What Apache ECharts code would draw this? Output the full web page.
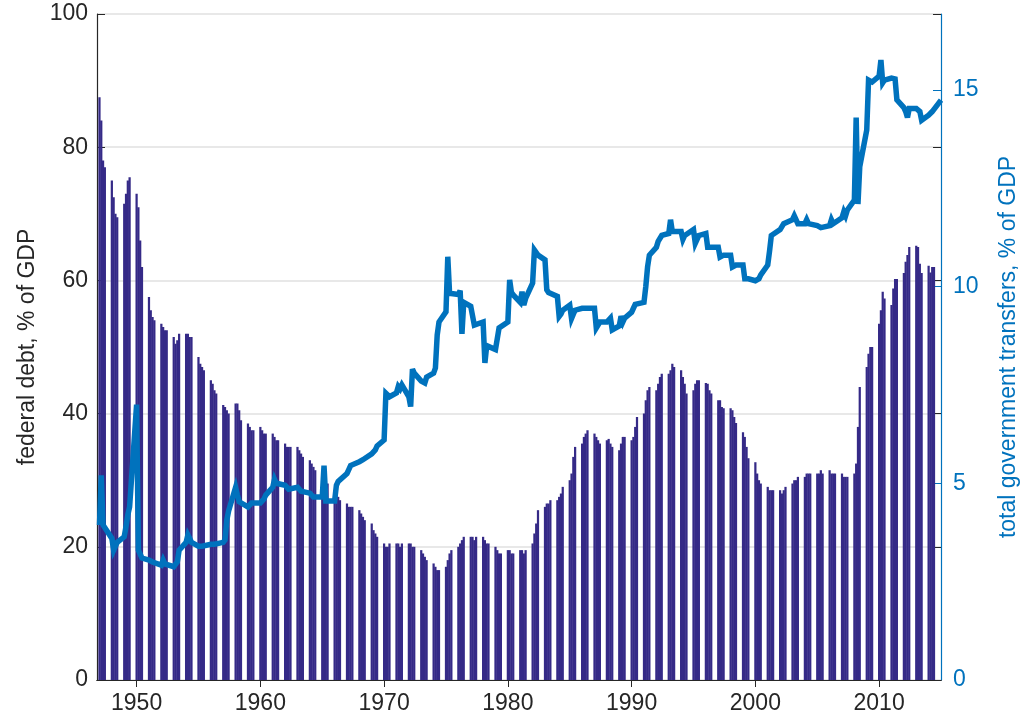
<!DOCTYPE html>
<html>
<head>
<meta charset="utf-8">
<script src="https://cdn.jsdelivr.net/npm/echarts@6/dist/echarts.min.js"></script>
<style>
  html, body { margin: 0; padding: 0; background: #fff; }
  #chart { width: 1028px; height: 723px; }
</style>
</head>
<body>
<div id="chart"></div>
<script>
// quarterly data, one row per year starting 1947
const startYear = 1947

// federal debt, % of GDP (left axis)
const debt = [
  [87.5, 84, 78, 77],       // 1947
  [75, 72.5, 70, 69.5],
  [71.5, 73, 75, 75.5],
  [73, 71, 66, 62],         // 1950
  [57.5, 55.5, 54.5, 54],
  [53.5, 53, 52.5, 52.5],
  [51.5, 50.5, 51, 52],
  [52, 52, 51.5, 51.5],
  [48.5, 47.5, 47, 46.5],
  [45, 44.5, 43.5, 43],
  [41.3, 41, 40.5, 40],
  [41.5, 41.5, 40.5, 39],
  [38.5, 38, 37.5, 37.5],
  [38, 37.5, 37, 37],       // 1960
  [37, 36.5, 36, 36],
  [35.5, 35, 35, 35],
  [35, 34.5, 34, 33.5],
  [33, 32.5, 32, 31.5],
  [31.5, 31, 30, 29.5],
  [28.5, 28, 27.5, 27],
  [26.5, 26, 26, 26],
  [25.5, 25, 24.5, 24],
  [23.5, 22.5, 22, 21.5],
  [20.5, 20, 20, 20.5],     // 1970
  [20.5, 20.5, 20, 20.5],
  [20.5, 20.5, 20, 20],
  [19.5, 19, 18.5, 18],
  [17.5, 17, 16.5, 16.5],
  [17, 18, 19, 19.5],
  [20, 20.5, 21, 21.5],
  [21.5, 21.5, 21, 21.5],
  [21.5, 21, 20.5, 20.5],
  [20, 19.5, 19, 19],
  [19.5, 19.5, 19, 19],     // 1980
  [19.5, 19.5, 19, 19.5],
  [20.5, 22, 23.5, 25.5],
  [26, 26.5, 26.5, 27],
  [27, 27.5, 28, 29],
  [30, 31, 33.5, 35],
  [35.5, 36.5, 37, 37.5],
  [37, 36.5, 36, 35.5],
  [36, 36.2, 35.5, 35],
  [34.5, 35.5, 36.5, 36.5],
  [36, 36.5, 38, 39.5],     // 1990
  [40, 42, 43.5, 44],
  [43.5, 44.5, 45.5, 46],
  [46, 46.5, 47.5, 47],
  [46.5, 45.5, 44.5, 43],
  [43.5, 44.5, 45, 45],
  [44.6, 44.5, 43.5, 43],
  [42, 42, 41, 40.8],
  [40.8, 40.5, 39.5, 38.6],
  [37.2, 36.5, 35, 33.3],
  [32.7, 31, 30, 29.5],     // 2000
  [29, 28.5, 28.5, 28.5],
  [28.5, 28, 28.5, 29],
  [29.5, 30, 30, 30.5],
  [30.5, 31, 31, 31],
  [31, 31, 31.5, 31],
  [31.5, 31, 31, 31],
  [31, 30.5, 30.5, 30.5],
  [31, 32.5, 38, 44],
  [47, 49, 50, 50],
  [53.5, 55.5, 58.3, 57.3], // 2010
  [56.3, 58.8, 60.2, 60.2],
  [61.1, 62.8, 63.8, 65],
  [65.2, 65, 62.5, 61.1],
  [62.2, 61.2, 62, 62]
]

// total government transfers, % of GDP (right axis)
const transfers = [
  [3.94, 5.2, 3.94, 3.94],  // 1947
  [3.6, 3.3, 3.3, 3.5],
  [3.64, 3.9, 4.2, 4.4],
  [7.0, 3.3, 3.2, 3.1],     // 1950
  [3.05, 3.0, 3.0, 2.95],
  [2.92, 3.05, 2.95, 2.9],
  [2.88, 2.9, 3.0, 3.3],
  [3.5, 3.69, 3.6, 3.5],
  [3.4, 3.36, 3.4, 3.4],
  [3.45, 3.48, 3.45, 3.5],
  [3.5, 3.56, 4.07, 4.3],
  [4.9, 4.7, 4.53, 4.5],
  [4.4, 4.45, 4.5, 4.5],
  [4.5, 4.55, 4.6, 4.7],    // 1960
  [4.9, 5.1, 5.0, 4.95],
  [4.95, 4.9, 4.85, 4.85],
  [4.9, 4.85, 4.8, 4.8],
  [4.75, 4.7, 4.65, 4.65],
  [4.65, 5.45, 4.55, 4.5],
  [4.55, 4.95, 5.05, 5.1],
  [5.25, 5.35, 5.45, 5.45],
  [5.55, 5.55, 5.6, 5.65],
  [5.75, 5.8, 5.85, 5.95],
  [6.1, 7.29, 7.25, 7.2],   // 1970
  [7.3, 7.46, 7.4, 7.5],
  [7.2, 6.95, 7.9, 7.8],
  [7.6, 7.58, 7.55, 7.7],
  [7.8, 7.93, 8.77, 9.1],
  [9.36, 10.76, 9.83, 9.8],
  [9.8, 9.9, 8.8, 9.6],
  [9.5, 9.45, 9.02, 9.05],
  [9.1, 8.06, 8.5, 8.5],
  [8.4, 8.39, 8.95, 9.0],
  [9.1, 10.17, 9.85, 9.79], // 1980
  [9.6, 9.87, 9.53, 9.7],
  [10.09, 10.93, 10.9, 10.8],
  [10.68, 9.92, 9.85, 9.8],
  [9.75, 9.24, 9.3, 9.4],
  [9.53, 9.19, 9.3, 9.4],
  [9.45, 9.49, 9.45, 9.45],
  [9.45, 8.95, 9.0, 9.1],
  [9.1, 9.15, 9.2, 8.9],
  [9.0, 9.25, 9.1, 9.2],
  [9.35, 9.45, 9.55, 9.6],  // 1990
  [9.6, 10.0, 10.5, 10.8],
  [11.0, 11.15, 11.2, 11.3],
  [11.35, 11.7, 11.4, 11.4],
  [11.4, 11.2, 11.3, 11.35],
  [11.45, 11.1, 11.2, 11.3],
  [11.35, 11.0, 11.05, 11.0],
  [11.0, 10.75, 10.8, 10.8],
  [10.8, 10.5, 10.5, 10.55],
  [10.55, 10.2, 10.25, 10.2],
  [10.15, 10.2, 10.2, 10.3], // 2000
  [10.55, 10.9, 11.3, 11.3],
  [11.45, 11.5, 11.6, 11.65],
  [11.7, 11.8, 11.75, 11.6],
  [11.6, 11.7, 11.6, 11.55],
  [11.55, 11.6, 11.5, 11.55],
  [11.55, 11.7, 11.6, 11.65],
  [11.75, 11.9, 11.8, 11.95],
  [12.2, 14.3, 12.1, 13.05],
  [13.98, 15.25, 15.2, 15.2],
  [15.35, 15.76, 15.18, 15.25], // 2010
  [15.3, 15.3, 15.28, 14.75],
  [14.55, 14.45, 14.3, 14.53],
  [14.53, 14.53, 14.45, 14.23],
  [14.36, 14.4, 14.45, 14.5],
  [14.74]                   // 2015
]

const yearTicks = [1950, 1960, 1970, 1980, 1990, 2000, 2010]
const transferTicks = [0, 5, 10, 15]

const barColor = '#352A87'
const lineColor = '#0072BD'
const textColor = '#262626'
const font = 'Liberation Sans, Arial, Helvetica, sans-serif'

// quarters of a year are packed into the first part of the year, as in the original plot
const qStep = 0.145
const halfBar = 0.09
const toPoints = (rows) => {
  const out = []
  rows.forEach((row, i) => {
    row.forEach((v, q) => out.push([startYear + i + q * qStep, v]))
  })
  return out
}
const debtData = toPoints(debt)
const transferData = toPoints(transfers)

const chart = echarts.init(document.getElementById('chart'))

const option = {
  animation: false,
  grid: { left: 97, right: 85, top: 14, bottom: 43, containLabel: false },
  xAxis: [{
    type: 'value',
    min: 1946.8,
    max: 2015,
    position: 'bottom',
    axisLine: { lineStyle: { color: textColor, width: 1.2 } },
    axisTick: { inside: true, length: 7, customValues: yearTicks, lineStyle: { color: textColor } },
    axisLabel: {
      customValues: yearTicks, color: textColor, fontSize: 23, fontFamily: font, margin: 12,
      formatter: (v) => String(v)
    },
    splitLine: { show: false }
  }, {
    type: 'value',
    min: 1946.8,
    max: 2015,
    position: 'top',
    axisLine: { lineStyle: { color: textColor, width: 1.2 } },
    axisTick: { inside: true, length: 7, customValues: yearTicks, lineStyle: { color: textColor } },
    axisLabel: { show: false },
    splitLine: { show: false }
  }],
  yAxis: [{
    type: 'value',
    min: 0,
    max: 100,
    interval: 20,
    position: 'left',
    name: 'federal debt, % of GDP',
    nameLocation: 'middle',
    nameRotate: 90,
    nameGap: 55,
    nameTextStyle: { color: textColor, fontSize: 23, fontFamily: font },
    axisLine: { show: true, lineStyle: { color: textColor, width: 1.2 } },
    axisTick: { show: true, inside: true, length: 8, lineStyle: { color: textColor } },
    axisLabel: { color: textColor, fontSize: 23, fontFamily: font, margin: 9 },
    splitLine: { show: true, lineStyle: { color: '#e0e0e0', width: 1.5 } }
  }, {
    type: 'value',
    min: 0,
    max: 16.93,
    position: 'right',
    name: 'total government transfers, % of GDP',
    nameLocation: 'middle',
    nameRotate: 90,
    nameGap: 56,
    nameTextStyle: { color: lineColor, fontSize: 23, fontFamily: font },
    axisLine: { show: true, lineStyle: { color: lineColor, width: 1.2 } },
    axisTick: { show: true, inside: true, length: 8, customValues: transferTicks, lineStyle: { color: lineColor } },
    axisLabel: { customValues: transferTicks, color: lineColor, fontSize: 23, fontFamily: font, margin: 12 },
    splitLine: { show: false }
  }, {
    // mirrored ticks of the left axis on the right edge
    type: 'value',
    min: 0,
    max: 100,
    interval: 20,
    position: 'right',
    axisLine: { show: false },
    axisTick: { show: true, inside: true, length: 8, lineStyle: { color: textColor } },
    axisLabel: { show: false },
    splitLine: { show: false }
  }],
  series: [{
    name: 'federal debt',
    type: 'custom',
    xAxisIndex: 0,
    yAxisIndex: 0,
    clip: true,
    data: debtData,
    renderItem: (params, api) => {
      const x = api.value(0)
      const top = api.coord([x - halfBar, api.value(1)])
      const bottom = api.coord([x + halfBar, 0])
      return {
        type: 'rect',
        shape: { x: top[0], y: top[1], width: bottom[0] - top[0], height: bottom[1] - top[1] },
        style: { fill: barColor }
      }
    },
    z: 2
  }, {
    name: 'transfers',
    type: 'line',
    xAxisIndex: 0,
    yAxisIndex: 1,
    data: transferData,
    showSymbol: false,
    symbol: 'none',
    clip: false,
    lineStyle: { color: lineColor, width: 5.5, join: 'miter', miterLimit: 4 },
    z: 3
  }]
}

chart.setOption(option)
window.addEventListener('resize', () => {
  chart.resize()
})
</script>
</body>
</html>
